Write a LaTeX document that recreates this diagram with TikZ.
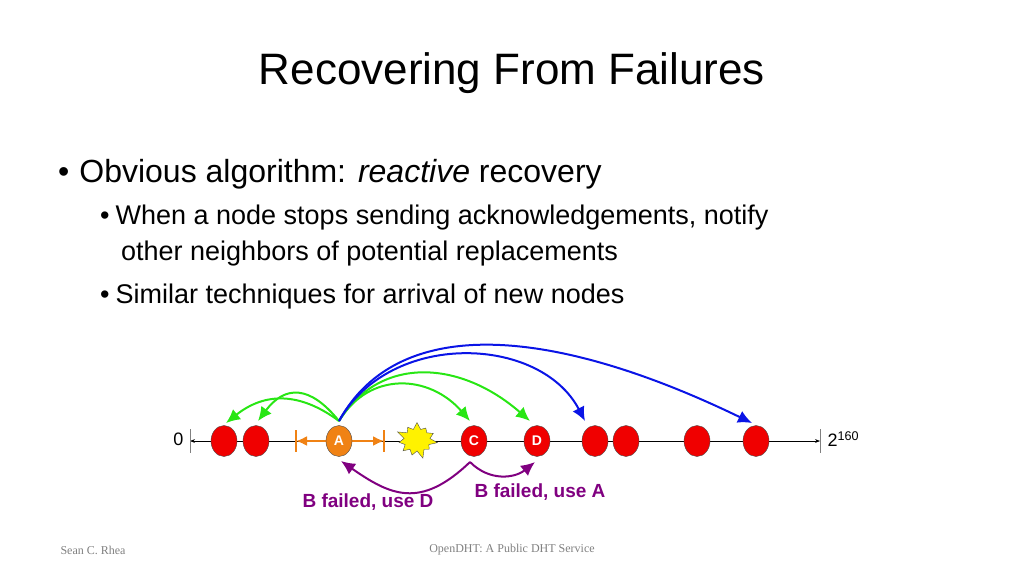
\documentclass[tikz,border=0pt]{standalone}
\usepackage{fontspec}
\setmainfont{Liberation Sans}
\newfontfamily\footfont{Liberation Serif}
\usetikzlibrary{shapes.symbols}
\definecolor{nodered}{RGB}{240,0,0}
\definecolor{hopgreen}{RGB}{40,230,20}
\definecolor{hopblue}{RGB}{10,20,230}
\definecolor{fixpurple}{RGB}{128,0,128}
\definecolor{rangeorange}{RGB}{240,130,20}
\tikzset{
  peer/.style={ellipse,draw=black!70,line width=0.4pt,fill=nodered,minimum width=26pt,minimum height=31pt,inner sep=0pt,text=white,font=\bfseries\fontsize{14}{14}\selectfont},
  hop/.style={line width=2pt,-{Latex[length=14pt,width=13pt]}},
  bodytext/.style={anchor=west,inner sep=0pt,font=\fontsize{27}{30}\selectfont}
}
\usetikzlibrary{shapes.geometric,arrows.meta}
\begin{document}
\begin{tikzpicture}[x=1pt,y=-1pt]
    \useasboundingbox (0,0) rectangle (1024,576);
    % title and bullets
    \node (title) at (512,73) {\fontsize{44}{48}\selectfont Recovering From Failures};
    \node [bodytext,font=\fontsize{32}{36}\selectfont] (b1) at (58,174) {\textbullet\hspace{10pt}Obvious algorithm: \textit{reactive} recovery};
    \node [bodytext] (b2) at (100,218) {\textbullet\hspace{6pt}When a node stops sending acknowledgements, notify};
    \node [bodytext] (b3) at (121,254) {other neighbors of potential replacements};
    \node [bodytext] (b4) at (100,297) {\textbullet\hspace{6pt}Similar techniques for arrival of new nodes};
    % the ring as a line
    \coordinate (lo) at (190,441);
    \coordinate (hi) at (820,441);
    \draw [black,line width=0.5pt,{Stealth[length=5pt]}-{Stealth[length=5pt]}] (lo) -- (hi);
    \draw [gray,line width=1pt] (190,429) -- (190,453);
    \draw [gray,line width=0.6pt] (820,429) -- (820,453);
    \node [left,font=\fontsize{18}{18}\selectfont] (zero) at (187,439) {0};
    \node [right,font=\fontsize{18}{18}\selectfont] (top) at (824,439) {2\textsuperscript{160}};
    % orange range
    \draw [rangeorange,line width=1.5pt] (296,430) -- (296,452) (384,430) -- (384,452);
    \draw [rangeorange,line width=2pt,{Latex[length=11pt,width=10pt]}-{Latex[length=11pt,width=10pt]}] (296,441) -- (384,441);
    % failed node
    \node [starburst,starburst points=11,starburst point height=9pt,fill=yellow,draw=black!70,line width=0.4pt,minimum width=44pt,minimum height=40pt,inner sep=0pt] (B) at (417,440) {};
    % peers
    \node [peer] (n1) at (224,441) {};
    \node [peer] (n2) at (256,441) {};
    \node [peer,fill=rangeorange] (A) at (339,441) {A};
    \node [peer] (C) at (474,441) {C};
    \node [peer] (D) at (537,441) {D};
    \node [peer] (n3) at (595,441) {};
    \node [peer] (n4) at (626,441) {};
    \node [peer] (n5) at (697,441) {};
    \node [peer] (n6) at (756,441) {};
    % proactive hops from A
    \coordinate (src) at (339,421);
    \draw [hop,hopgreen] (src) .. controls (300,392) and (265,392) .. (226,423);
    \draw [hop,hopgreen] (src) .. controls (310,385) and (285,385) .. (258,421);
    \draw [hop,hopgreen] (src) .. controls (370,370) and (430,375) .. (470,421);
    \draw [hop,hopgreen] (src) .. controls (380,355) and (460,360) .. (530,421);
    \draw [hop,hopblue] (src) .. controls (390,330) and (540,335) .. (585,421);
    \draw [hop,hopblue] (src) .. controls (400,310) and (560,330) .. (752,423);
    % repair messages
    \coordinate (cfrom) at (470,462);
    \draw [hop,fixpurple] (cfrom) .. controls (420,510) and (390,495) .. (341,461);
    \draw [hop,fixpurple] (cfrom) .. controls (490,482) and (515,478) .. (535,462);
    \node [fixpurple,font=\bfseries\fontsize{19}{19}\selectfont] (fixD) at (368,502) {B failed, use D};
    \node [fixpurple,font=\bfseries\fontsize{19}{19}\selectfont] (fixA) at (540,492) {B failed, use A};
    % footer
    \node [gray,font=\footfont\fontsize{12}{12}\selectfont] (author) at (93,550) {Sean C. Rhea};
    \node [gray,font=\footfont\fontsize{12}{12}\selectfont] (talk) at (512,550) {OpenDHT: A Public DHT Service};
\end{tikzpicture}
\end{document}
